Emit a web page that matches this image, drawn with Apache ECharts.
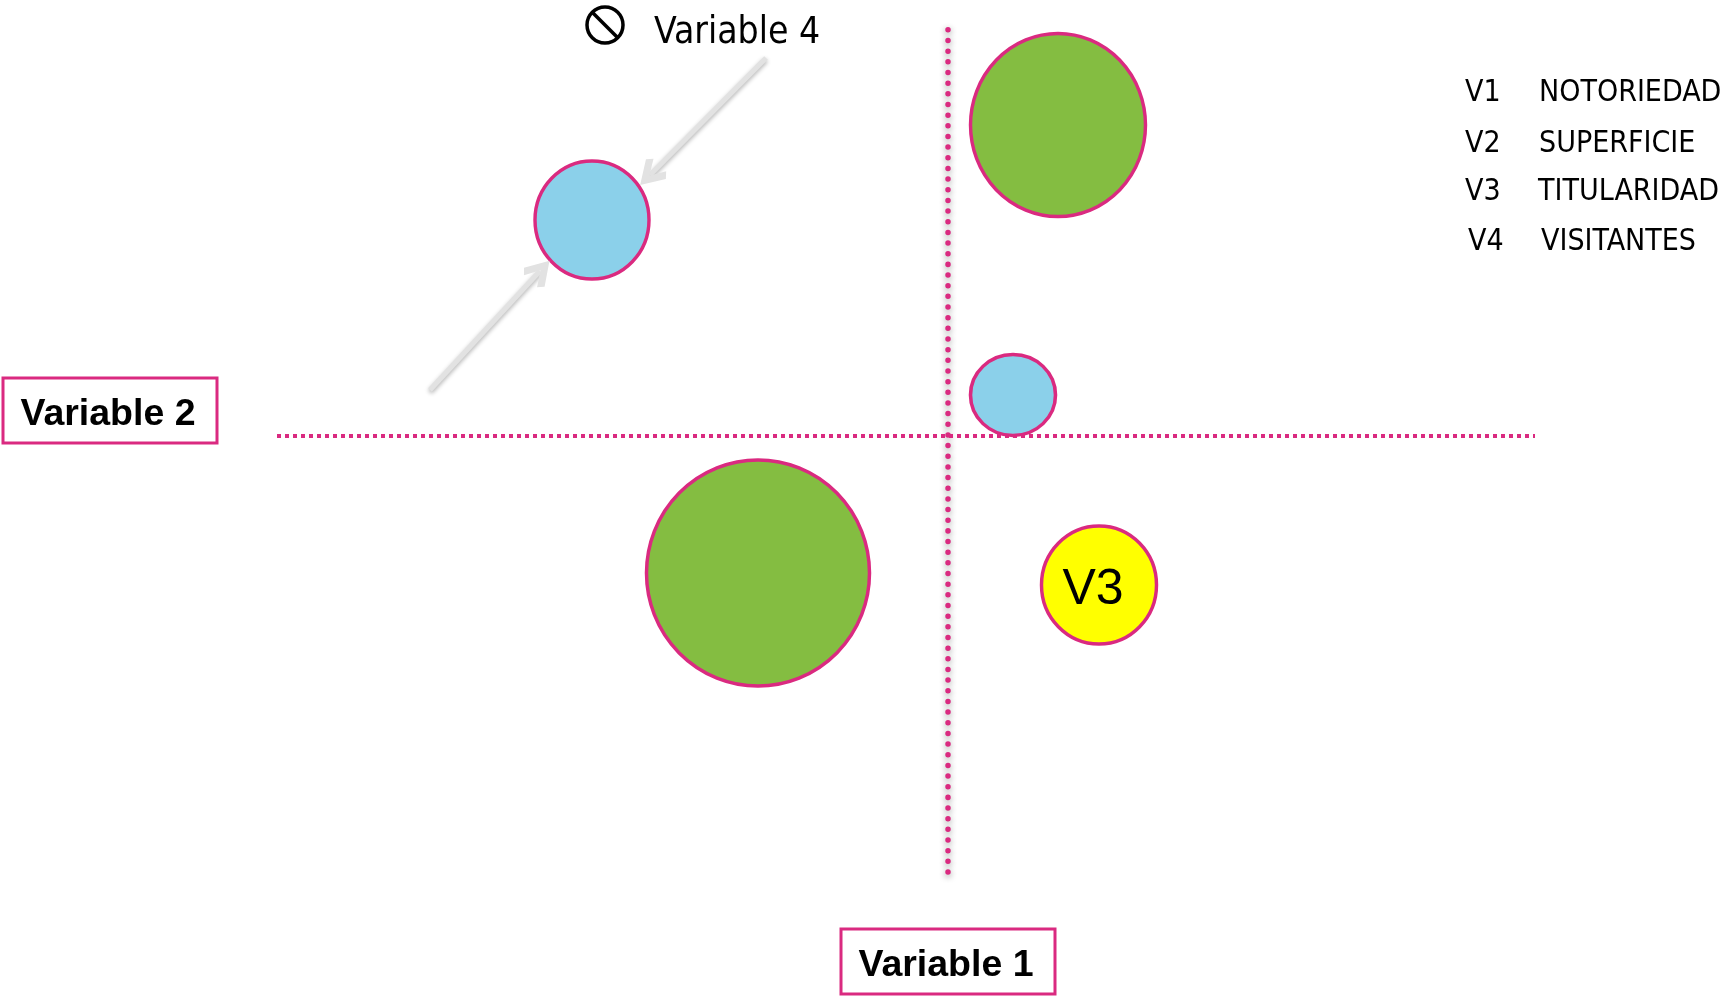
<!DOCTYPE html>
<html>
<head>
<meta charset="utf-8">
<style>
  html, body { margin: 0; padding: 0; background: #fff; }
  #main { width: 1730px; height: 1001px; }
</style>
<script src="https://cdn.jsdelivr.net/npm/echarts@6/dist/echarts.min.js"></script>
</head>
<body>
<div id="main"></div>
<script>
'use strict';
// bubbles (axes cross at 0,0)
var bubbleX = [-356, 110, 65, -190, 151];
var bubbleY = [216, 311, 41, -137, -149];
var bubbleW = [114, 175, 85, 223, 115];
var bubbleH = [118, 183, 81, 226, 118];
var bubbleGroup = ['azul', 'verde', 'azul', 'verde', 'amarillo'];
var bubbleLabel = ['', '', '', '', 'V3'];

// the two grey arrows pointing at the first bubble
var arrowFrom = [[-182, 378], [-518, 46]];
var arrowTo = [[-298, 261], [-408, 165]];

var axisName1 = 'Variable 1';
var axisName2 = 'Variable 2';
var sizeName = 'Variable 4';
var legendCodes = ['V1', 'V2', 'V3', 'V4'];
var legendNames = ['NOTORIEDAD', 'SUPERFICIE', 'TITULARIDAD', 'VISITANTES'];

var groupColor = { azul: '#8bd0ea', verde: '#84bd41', amarillo: '#ffff00' };
var pink = '#da2a80';
var legendFont = '"DejaVu Sans Condensed", "DejaVu Sans", sans-serif';
var boxFont = '"Liberation Sans", Arial, sans-serif';

var bubbles = [];
for (var i = 0; i < bubbleX.length; i++) {
    bubbles.push({
        value: [bubbleX[i], bubbleY[i]],
        symbolSize: [bubbleW[i], bubbleH[i]],
        itemStyle: { color: groupColor[bubbleGroup[i]] },
        label: { show: bubbleLabel[i] !== '', formatter: bubbleLabel[i] }
    });
}
var arrows = arrowFrom.map(function (from, i) {
    return { coords: [from, arrowTo[i]] };
});

// recuadro con texto en negrita
function boxText(text, x, y, w, h) {
    return [{
        type: 'rect',
        shape: { x: x, y: y, width: w, height: h },
        style: { fill: '#fff', stroke: pink, lineWidth: 3 }
    }, {
        type: 'text',
        x: x + w / 2 - 2,
        y: y + h / 2 + 4,
        style: {
            text: text, fill: '#000', align: 'center', verticalAlign: 'middle',
            font: 'bold 37.5px ' + boxFont
        }
    }];
}

var graphics = [].concat(
    boxText(axisName2, 3, 378, 214, 65),
    boxText(axisName1, 841, 929, 214, 65)
);
// prohibido + Variable 4
graphics.push({
    type: 'circle',
    shape: { cx: 605, cy: 25, r: 18 },
    style: { fill: 'none', stroke: '#000', lineWidth: 3.5 }
}, {
    type: 'line',
    shape: { x1: 592, y1: 12, x2: 618, y2: 38 },
    style: { stroke: '#000', lineWidth: 3.5 }
}, {
    type: 'text',
    x: 654,
    y: 33,
    style: { text: sizeName, fill: '#000', verticalAlign: 'middle', font: '37px ' + legendFont }
});
// leyenda
var legendRowY = [93, 144, 192, 242];
var legendCodeX = [1465, 1465, 1465, 1468];
var legendNameX = [1539, 1539, 1538, 1541];
legendCodes.forEach(function (code, i) {
    graphics.push({
        type: 'text', x: legendCodeX[i], y: legendRowY[i],
        style: { text: code, fill: '#000', verticalAlign: 'middle', font: '30px ' + legendFont }
    }, {
        type: 'text', x: legendNameX[i], y: legendRowY[i],
        style: { text: legendNames[i], fill: '#000', verticalAlign: 'middle', font: '30px ' + legendFont }
    });
});

var myChart = echarts.init(document.getElementById('main'), null, { renderer: 'canvas' });
myChart.setOption({
    animation: false,
    backgroundColor: '#fff',
    grid: { left: 277, right: 195, top: 25, bottom: 129 },
    xAxis: {
        type: 'value', min: -671, max: 587, z: 3,
        axisTick: { show: false }, axisLabel: { show: false }, splitLine: { show: false },
        axisLine: {
            show: true, onZero: true,
            lineStyle: { color: pink, width: 4, cap: 'butt', type: [4, 4] }
        }
    },
    yAxis: {
        type: 'value', min: -436, max: 411, z: 3,
        axisTick: { show: false }, axisLabel: { show: false }, splitLine: { show: false },
        axisLine: {
            show: true, onZero: true,
            lineStyle: {
                color: pink, width: 5.5, cap: 'round', type: [0.01, 10.65],
                shadowColor: 'rgba(0,0,0,0.45)', shadowBlur: 6, shadowOffsetX: 0, shadowOffsetY: 2
            }
        }
    },
    series: [{
        type: 'scatter',
        data: bubbles,
        itemStyle: { borderColor: pink, borderWidth: 3.5, opacity: 1 },
        label: {
            position: 'inside', color: '#000', fontSize: 50,
            fontFamily: 'Liberation Sans', offset: [-6, 5]
        }
    }, {
        type: 'lines',
        coordinateSystem: 'cartesian2d',
        data: arrows,
        symbol: ['none', 'path://M0,0 L11,12 L7,15 L0,7 L-7,15 L-11,12 Z'],
        symbolSize: 28,
        lineStyle: {
            color: '#e2e2e2', width: 5, opacity: 1, curveness: 0,
            shadowColor: 'rgba(0,0,0,0.3)', shadowBlur: 4, shadowOffsetY: 2
        },
        z: 4
    }],
    graphic: { elements: graphics }
});
</script>
</body>
</html>
